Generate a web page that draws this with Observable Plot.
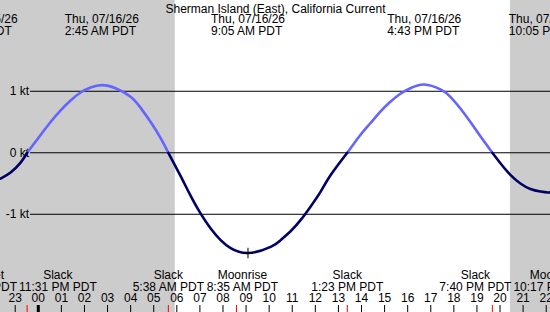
<!DOCTYPE html>
<html>
<head>
<meta charset="utf-8">
<script src="https://cdn.jsdelivr.net/npm/d3@7"></script>
<script src="https://cdn.jsdelivr.net/npm/@observablehq/plot@0.6"></script>
<style>
  html, body { margin: 0; padding: 0; background: #fff; }
  #chart svg { display: block; }
</style>
</head>
<body>
<div id="chart"></div>
<script>
// ---- Station and time window (PDT clock times) ----
const stationName = "Sherman Island (East), California Current";
const windowStart = "2026-07-15T22:21:47";
const windowEnd = "2026-07-16T22:11:10";

// ---- Current speed in knots (+ flood, − ebb) ----
const flowTimes = [
  "2026-07-15T22:22", "2026-07-15T22:48", "2026-07-15T23:14", "2026-07-15T23:31",
  "2026-07-16T00:06", "2026-07-16T00:32", "2026-07-16T00:58", "2026-07-16T01:24",
  "2026-07-16T01:50", "2026-07-16T02:16", "2026-07-16T02:45", "2026-07-16T03:21",
  "2026-07-16T04:00", "2026-07-16T04:26", "2026-07-16T04:52", "2026-07-16T05:18",
  "2026-07-16T05:38", "2026-07-16T06:10", "2026-07-16T06:36", "2026-07-16T07:02",
  "2026-07-16T07:28", "2026-07-16T07:54", "2026-07-16T08:20", "2026-07-16T09:05",
  "2026-07-16T10:04", "2026-07-16T10:30", "2026-07-16T10:55", "2026-07-16T11:21",
  "2026-07-16T11:47", "2026-07-16T12:13", "2026-07-16T12:39", "2026-07-16T13:23",
  "2026-07-16T13:57", "2026-07-16T14:23", "2026-07-16T14:49", "2026-07-16T15:15",
  "2026-07-16T15:41", "2026-07-16T16:07", "2026-07-16T16:43", "2026-07-16T17:25",
  "2026-07-16T17:51", "2026-07-16T18:17", "2026-07-16T18:43", "2026-07-16T19:09",
  "2026-07-16T19:40", "2026-07-16T20:01", "2026-07-16T20:27", "2026-07-16T20:53",
  "2026-07-16T21:19", "2026-07-16T21:45", "2026-07-16T22:05", "2026-07-16T22:11"
];
const flowKnots = [
  -0.42, -0.32, -0.16, 0,
  0.29, 0.50, 0.69, 0.85,
  0.98, 1.06, 1.10, 1.05,
  0.91, 0.73, 0.50, 0.24,
  0, -0.38, -0.70, -0.99,
  -1.23, -1.42, -1.55, -1.63,
  -1.53, -1.42, -1.28, -1.10,
  -0.88, -0.64, -0.37, 0,
  0.29, 0.48, 0.67, 0.83,
  0.96, 1.05, 1.11, 1.03,
  0.91, 0.72, 0.50, 0.27,
  0, -0.17, -0.36, -0.50,
  -0.59, -0.63, -0.645, -0.64
];

// ---- Maximum flood / ebb, labelled along the top ----
const peakTimes = ["2026-07-15T21:25", "2026-07-16T02:45", "2026-07-16T09:05", "2026-07-16T16:43", "2026-07-16T22:05"];
const peakDates = ["Wed, 07/15/26", "Thu, 07/16/26", "Thu, 07/16/26", "Thu, 07/16/26", "Thu, 07/16/26"];
const peakClock = ["9:25 PM PDT", "2:45 AM PDT", "9:05 AM PDT", "4:43 PM PDT", "10:05 PM PDT"];

// ---- Slack water and moon events, labelled along the bottom ----
const eventTimes = ["2026-07-15T21:31", "2026-07-15T23:31", "2026-07-16T05:38", "2026-07-16T08:35", "2026-07-16T13:23", "2026-07-16T19:40", "2026-07-16T22:17"];
const eventNames = ["Moonset", "Slack", "Slack", "Moonrise", "Slack", "Slack", "Moonset"];
const eventClock = ["9:31 PM PDT", "11:31 PM PDT", "5:38 AM PDT", "8:35 AM PDT", "1:23 PM PDT", "7:40 PM PDT", "10:17 PM PDT"];

// ---- Daylight ----
const sunriseTime = "2026-07-16T05:56";
const sunsetTime = "2026-07-16T20:27";

// ---- Speed guide lines ----
const knotLevels = [1, 0, -1];
const knotLabels = ["1 kt", "0 kt", "-1 kt"];

// ---- Marked extreme ----
const markerTime = "2026-07-16T09:05";
const markerKnots = -1.63;

// ------------------------------------------------------------------
const W = 550, H = 312;
const FONT = "Liberation Sans";
const FONT_SIZE = 12;
const floodColor = "#6464ff";
const ebbColor = "#000066";
const nightColor = "#cccccc";

// Clock times are kept as wall-clock values on a UTC scale.
const parse = s => new Date(s + "Z");
const t0 = parse(windowStart), t1 = parse(windowEnd);

const xScale = d3.scaleUtc().domain([t0, t1]).range([0, W]);

// Split the curve at slack water so flood and ebb get their own colour;
// each zero crossing belongs to both neighbouring pieces.
const flow = flowTimes.map((t, i) => ({time: parse(t), knots: flowKnots[i]}));
const pieces = [];
let cur = null, lastZero = null;
for (const d of flow) {
  const s = Math.sign(d.knots);
  if (s === 0) { if (cur) cur.points.push(d); cur = null; lastZero = d; continue; }
  if (!cur || cur.sign !== s) {
    cur = {sign: s, points: lastZero ? [lastZero] : []};
    pieces.push(cur);
    lastZero = null;
  }
  cur.points.push(d);
}
const flowRows = pieces.flatMap((p, k) =>
  p.points.map(d => ({...d, piece: k, kind: p.sign > 0 ? "flood" : "ebb"})));

// Night shading
const nights = [
  {start: t0, end: parse(sunriseTime)},
  {start: parse(sunsetTime), end: t1}
];

// Hour ticks along the bottom
const hours = d3.utcHour.range(t0, t1);

// Text measurement for label placement
const ctx = document.createElement("canvas").getContext("2d");
ctx.font = `${FONT_SIZE}px "${FONT}"`;
const textWidth = s => ctx.measureText(s).width;

// Bottom labels: centred on their event; where neighbours collide the
// inner label is moved toward the middle of the chart.
const bottomLabels = eventTimes.map((t, i) => {
  const time = parse(t);
  return {
    time, name: eventNames[i], clock: eventClock[i],
    pos: xScale(time),
    w: Math.max(textWidth(eventNames[i]), textWidth(eventClock[i]))
  };
});
{
  const gap = 2, mid = W / 2;
  const left = bottomLabels.filter(d => d.pos < mid);
  const right = bottomLabels.filter(d => d.pos >= mid);
  for (let i = 1; i < left.length; i++) {
    const p = left[i - 1], c = left[i];
    const minPos = p.pos + p.w / 2 + gap + c.w / 2;
    if (c.pos < minPos) c.pos = minPos;
  }
  for (let i = right.length - 2; i >= 0; i--) {
    const n = right[i + 1], c = right[i];
    const maxPos = n.pos - n.w / 2 - gap - c.w / 2;
    if (c.pos > maxPos) c.pos = maxPos;
  }
}

// Top labels: two left-aligned lines, the block centred on the event.
const topLabels = peakTimes.map((t, i) => {
  const time = parse(t);
  const w = Math.max(textWidth(peakDates[i]), textWidth(peakClock[i]));
  return {time, text: peakDates[i] + "\n" + peakClock[i], start: xScale(time) - w / 2};
});

const chart = Plot.plot({
  width: W,
  height: H,
  margin: 0,
  style: {fontFamily: FONT, fontSize: FONT_SIZE + "px", color: "black", background: "white"},
  x: {type: "utc", domain: [t0, t1], axis: null},
  y: {domain: [-2.597, 2.476], axis: null},
  marks: [
    Plot.rect(nights, {x1: "start", x2: "end", fill: nightColor}),
    Plot.ruleY(knotLevels, {stroke: "black", strokeWidth: 1, insetLeft: 30}),
    Plot.text(knotLevels, {
      y: d => d, text: (d, i) => knotLabels[i],
      frameAnchor: "left", textAnchor: "end", lineAnchor: "middle", dx: 28.5
    }),
    Plot.line(flowRows.filter(d => d.kind === "flood"), {
      x: "time", y: "knots", z: "piece", stroke: floodColor, strokeWidth: 2.6, curve: "natural"
    }),
    Plot.line(flowRows.filter(d => d.kind === "ebb"), {
      x: "time", y: "knots", z: "piece", stroke: ebbColor, strokeWidth: 2.6, curve: "natural"
    }),
    Plot.dot([{time: parse(markerTime), knots: markerKnots}], {
      x: "time", y: "knots", symbol: "plus", r: 3.5, stroke: "black", strokeWidth: 1
    }),
    // title
    Plot.text([stationName], {text: d => d, frameAnchor: "top", lineAnchor: "bottom", dy: 12}),
    // flood / ebb maxima
    Plot.text(topLabels, {
      x: d => xScale.invert(d.start), text: "text", textAnchor: "start",
      frameAnchor: "top", lineAnchor: "bottom", dy: 34.5, lineHeight: 0.96
    }),
    // slack / moon events
    Plot.text(bottomLabels, {
      x: d => xScale.invert(d.pos), text: d => d.name + "\n" + d.clock,
      frameAnchor: "bottom", lineAnchor: "bottom", dy: -22, lineHeight: 1
    }),
    // hour labels and ticks
    Plot.text(hours, {
      x: d => d, text: d => d3.utcFormat("%H")(d),
      frameAnchor: "bottom", lineAnchor: "bottom", dy: -10.5
    }),
    Plot.ruleX(hours, {
      x: d => d, stroke: "black", insetTop: 305,
      strokeWidth: d => d.getUTCHours() === 0 ? 3 : 1
    }),
    Plot.ruleX(bottomLabels, {x: "time", stroke: "red", strokeWidth: 1, insetTop: 305})
  ]
});

document.getElementById("chart").appendChild(chart);
</script>
</body>
</html>
